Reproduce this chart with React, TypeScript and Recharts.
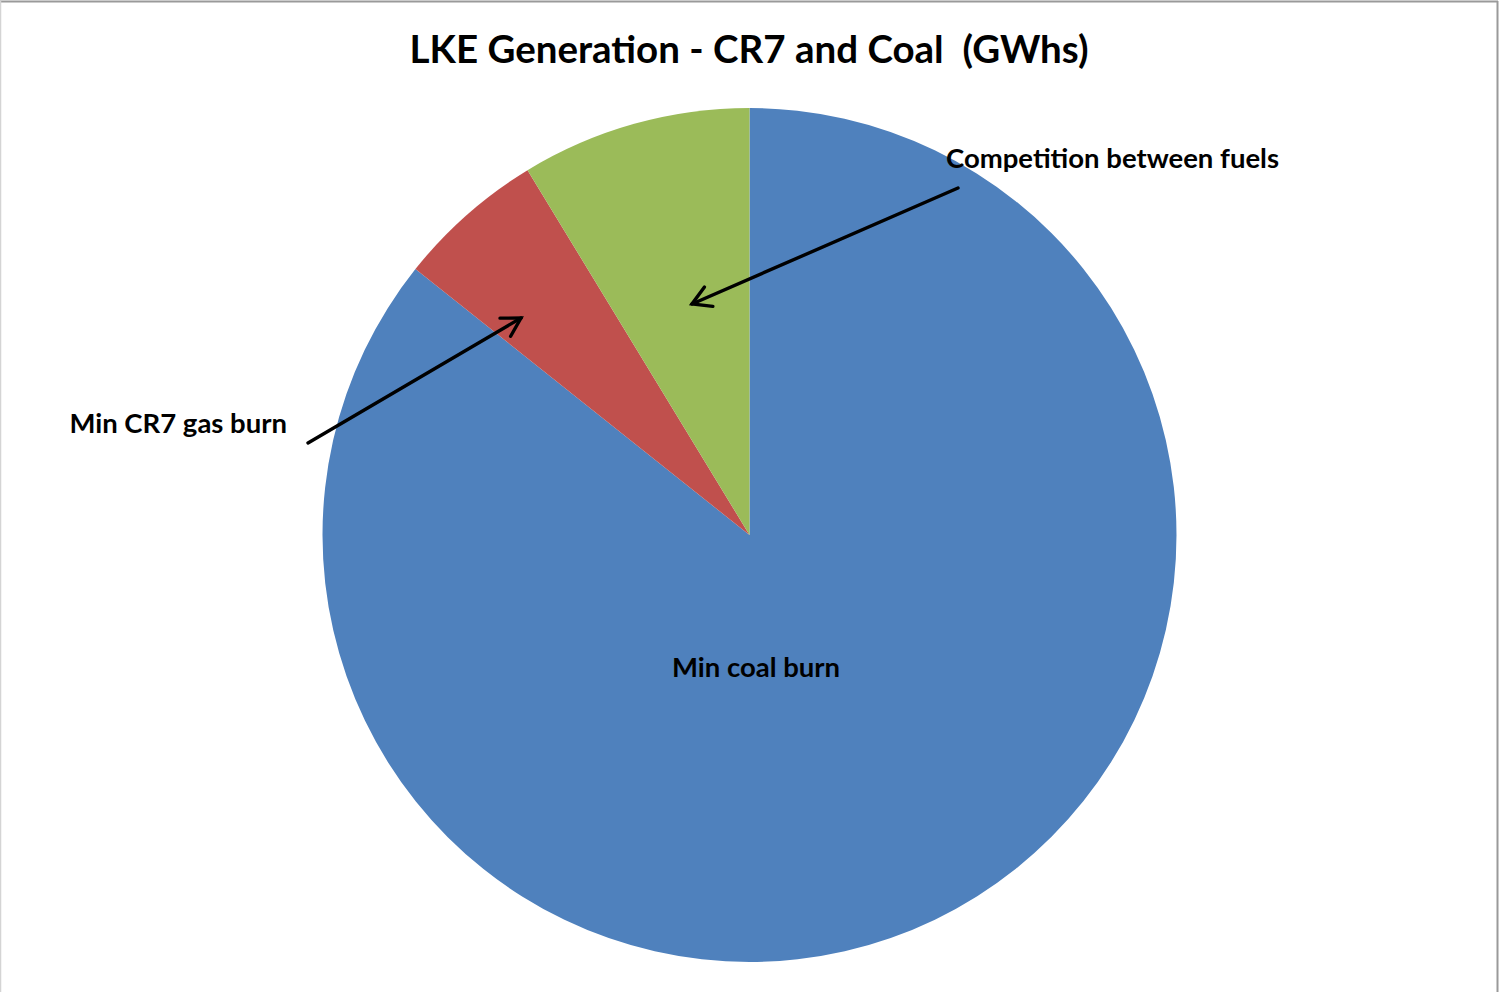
import React from 'react';
import { PieChart, Pie, Cell, Customized } from 'recharts';

const categories = ['Min coal burn', 'Min CR7 gas burn', 'Competition between fuels'];
const values = [85.7, 5.6, 8.7];
const colors = ['#4F81BD', '#C0504D', '#9BBB59'];
const title = 'LKE Generation - CR7 and Coal  (GWhs)';

const data = categories.map((name, i) => ({ name, value: values[i] }));

const FONT = 'Lato, "Open Sans", sans-serif';

const Arrow = ({ x1, y1, x2, y2 }: { x1: number; y1: number; x2: number; y2: number }) => {
  const ang = Math.atan2(y2 - y1, x2 - x1);
  const len = 21;
  const spread = Math.PI / 6;
  const ax = x2 - len * Math.cos(ang - spread);
  const ay = y2 - len * Math.sin(ang - spread);
  const bx = x2 - len * Math.cos(ang + spread);
  const by = y2 - len * Math.sin(ang + spread);
  return (
    <g stroke="#000" strokeWidth={3.4} fill="none" strokeLinecap="round">
      <line x1={x1} y1={y1} x2={x2} y2={y2} />
      <polyline points={`${ax},${ay} ${x2},${y2} ${bx},${by}`} strokeLinejoin="miter" />
    </g>
  );
};

const renderLabel = (props: any) => {
  const { cx, cy, outerRadius, index } = props;
  const k = outerRadius / 427;
  const textStyle = { fontFamily: FONT, fontWeight: 700, fontSize: 27.5, fill: '#000' } as const;
  if (index === 0) {
    return (
      <text x={cx + 6.5 * k} y={cy + 142 * k} textAnchor="middle" style={textStyle}>
        {categories[0]}
      </text>
    );
  }
  if (index === 1) {
    return (
      <g>
        <text x={cx - 462.5 * k} y={cy - 102 * k} textAnchor="end" style={textStyle}>
          {categories[1]}
        </text>
        <Arrow x1={cx - 441.5 * k} y1={cy - 92 * k} x2={cx - 228.5 * k} y2={cy - 217 * k} />
      </g>
    );
  }
  return (
    <g>
      <text x={cx + 196.5 * k} y={cy - 367 * k} textAnchor="start" style={textStyle}>
        {categories[2]}
      </text>
      <Arrow x1={cx + 208.5 * k} y1={cy - 347 * k} x2={cx - 57.5 * k} y2={cy - 231 * k} />
    </g>
  );
};

const Frame = () => (
  <g>
    <line x1={0} y1={1.5} x2={1498} y2={1.5} stroke="#9a9a9a" strokeWidth={2} />
    <line x1={1497.5} y1={1} x2={1497.5} y2={992} stroke="#9a9a9a" strokeWidth={2} />
    <line x1={0.5} y1={1} x2={0.5} y2={992} stroke="#d4d4d4" strokeWidth={1.5} />
    <text
      x={749}
      y={63}
      textAnchor="middle"
      style={{ fontFamily: FONT, fontWeight: 700, fontSize: 38.5, fill: '#000', whiteSpace: 'pre' }}
    >
      {title}
    </text>
  </g>
);

export default function App() {
  return (
    <div style={{ position: 'absolute', left: 0, top: 0, width: 1499, height: 992, background: '#fff' }}>
      <PieChart width={1499} height={992} margin={{ top: 0, right: 0, bottom: 0, left: 0 }}>
        <Customized component={Frame} />
        <Pie
          data={data}
          dataKey="value"
          nameKey="name"
          cx={749.5}
          cy={535}
          outerRadius={427}
          startAngle={90}
          endAngle={-270}
          stroke="none"
          label={renderLabel}
          labelLine={false}
          isAnimationActive={false}
        >
          {data.map((d, i) => (
            <Cell key={d.name} fill={colors[i]} />
          ))}
        </Pie>
      </PieChart>
    </div>
  );
}
